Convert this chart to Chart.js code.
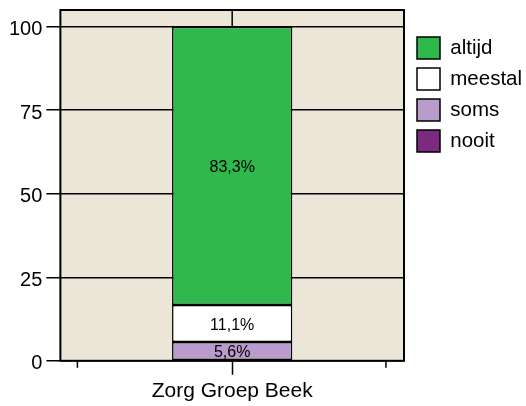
<!DOCTYPE html>
<html>
<head>
<meta charset="utf-8">
<title>Zorg Groep Beek</title>
<script src="https://cdn.jsdelivr.net/npm/chart.js@4"></script>
<style>
    body { margin: 0; background: #ffffff; }
    #wrap { width: 526px; height: 406px; }
</style>
</head>
<body>
<div id="wrap"><canvas id="beekChart"></canvas></div>
<script>
// ===================================
// DATA
// Percentages per answer, stacked in one bar
// ===================================
const CATEGORIES = ['Zorg Groep Beek'];
const ANSWERS = ['nooit', 'soms', 'meestal', 'altijd'];
const NOOIT = [0];
const SOMS = [5.6];
const MEESTAL = [11.1];
const ALTIJD = [83.3];
const Y_TICKS = [0, 25, 50, 75, 100];

const COLORS = {
    nooit: '#7b2a80',
    soms: '#b99ccb',
    meestal: '#ffffff',
    altijd: '#2fb84b'
};
const PLOT_BG = '#ebe6d7';
const FONT = 'Liberation Sans, Arial, Helvetica, sans-serif';

// ===================================
// Plot background, percentage labels and frame
// ===================================
const framePlugin = {
    id: 'frame',
    beforeDraw(chart) {
        const { ctx, chartArea: a } = chart;
        ctx.save();
        ctx.fillStyle = PLOT_BG;
        ctx.fillRect(a.left, a.top, a.right - a.left, a.bottom - a.top);
        ctx.restore();
    },
    afterDatasetsDraw(chart) {
        const { ctx, chartArea: a, scales } = chart;
        ctx.save();

        // value labels in the middle of each segment
        ctx.font = '16px ' + FONT;
        ctx.fillStyle = '#000000';
        ctx.textAlign = 'center';
        ctx.textBaseline = 'middle';
        chart.data.datasets.forEach((ds, i) => {
            const meta = chart.getDatasetMeta(i);
            meta.data.forEach((bar, j) => {
                const v = ds.data[j];
                if (!v) return;
                const mid = (bar.y + bar.base) / 2;
                ctx.fillText(v.toFixed(1).replace('.', ',') + '%', bar.x, mid + 2);
            });
        });

        // outer frame
        ctx.strokeStyle = '#000000';
        ctx.lineWidth = 2;
        ctx.strokeRect(a.left, a.top, a.right - a.left, a.bottom - a.top);

        // short divider above the 100 line
        const cx = scales.x.getPixelForValue(0);
        ctx.lineWidth = 1.5;
        ctx.beginPath();
        ctx.moveTo(cx, a.top);
        ctx.lineTo(cx, scales.y.getPixelForValue(100));
        ctx.stroke();

        // small outer ticks on the category axis
        [0.0496, 0.9475].forEach(f => {
            const x = a.left + f * (a.right - a.left);
            ctx.beginPath();
            ctx.moveTo(x, a.bottom);
            ctx.lineTo(x, a.bottom + 7);
            ctx.stroke();
        });
        ctx.restore();
    }
};

// ===================================
// Chart
// ===================================
function makeDataset(label, data) {
    return {
        label: label,
        data: data,
        backgroundColor: COLORS[label],
        borderColor: '#000000',
        borderWidth: 1.5,
        borderSkipped: false,
        barPercentage: 0.35,
        categoryPercentage: 1.0
    };
}

new Chart(document.getElementById('beekChart'), {
    type: 'bar',
    data: {
        labels: CATEGORIES,
        datasets: [
            makeDataset(ANSWERS[0], NOOIT),
            makeDataset(ANSWERS[1], SOMS),
            makeDataset(ANSWERS[2], MEESTAL),
            makeDataset(ANSWERS[3], ALTIJD)
        ]
    },
    options: {
        responsive: true,
        maintainAspectRatio: false,
        animation: false,
        layout: {
            padding: { top: 10, left: 5, right: 0, bottom: -2 }
        },
        plugins: {
            tooltip: { enabled: false },
            legend: {
                position: 'right',
                align: 'start',
                reverse: true,
                maxWidth: 118,
                // empty title only pushes the entries down
                title: {
                    display: true,
                    text: '',
                    font: { size: 10 },
                    padding: { top: 0, bottom: 6 }
                },
                labels: {
                    boxWidth: 23,
                    boxHeight: 22,
                    padding: 9,
                    color: '#000000',
                    font: { size: 20.5, family: FONT }
                }
            }
        },
        scales: {
            x: {
                stacked: true,
                grid: {
                    drawOnChartArea: false,
                    offset: false,
                    tickLength: 14,
                    tickColor: '#000000',
                    tickWidth: 1.5
                },
                border: { display: false },
                ticks: {
                    color: '#000000',
                    padding: 4,
                    font: { size: 21, family: FONT }
                }
            },
            y: {
                stacked: true,
                min: 0,
                max: 105,
                afterBuildTicks(scale) {
                    scale.ticks = Y_TICKS.map(v => ({ value: v }));
                },
                afterFit(scale) {
                    scale.paddingTop = 0;
                    scale.paddingBottom = 0;
                },
                grid: {
                    color: '#000000',
                    lineWidth: 1.5,
                    tickLength: 14,
                    tickColor: '#000000',
                    tickWidth: 1.5
                },
                border: { display: false },
                ticks: {
                    color: '#000000',
                    padding: 4,
                    labelOffset: 3,
                    font: { size: 20, family: FONT }
                }
            },
            // blank spacer between plot and legend
            gap: {
                position: 'right',
                display: true,
                grid: { display: false },
                border: { display: false },
                ticks: { display: false },
                afterFit(scale) {
                    scale.width = 4;
                }
            }
        }
    },
    plugins: [framePlugin]
});
</script>
</body>
</html>
